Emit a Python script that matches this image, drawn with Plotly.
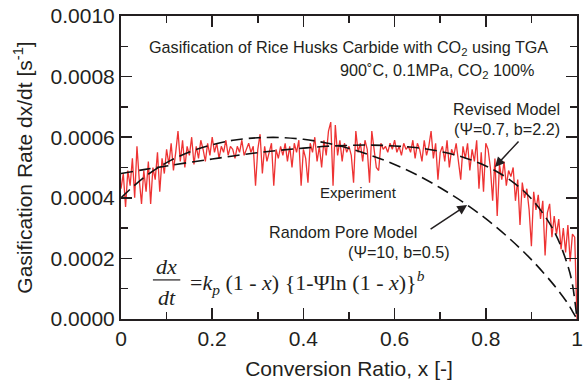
import plotly.graph_objects as go

# Experiment (conversion ratio x, rate in units of 1e-4 s^-1)
exp_x = [round(i * 0.005, 3) for i in range(201)]
exp_rate_e4 = [
    4.3, 4.8, 3.7, 4.9, 4.4, 5.3, 4.0, 5.7, 4.6, 3.8, 4.9,
    4.2, 5.2, 3.8, 5.0, 4.6, 5.5, 4.2, 5.3, 4.8, 5.6,
    5.1, 5.8, 4.9, 5.5, 6.2, 5.2, 5.9, 5.0, 5.7, 5.4,
    6.0, 5.1, 5.7, 5.3, 5.9, 5.6, 5.2, 5.8, 5.4, 6.0,
    5.5, 5.8, 5.3, 5.7, 5.5, 5.9, 5.4, 5.7, 5.6, 5.3,
    5.7, 5.5, 5.9, 5.4, 5.6, 5.8, 5.5, 5.7, 4.4, 5.6,
    6.1, 4.8, 5.7, 5.2, 5.5, 5.8, 4.4, 5.6, 5.3, 5.7,
    5.4, 5.8, 5.2, 5.7, 5.0, 5.8, 5.5, 5.9, 4.4, 5.6,
    5.3, 4.5, 5.8, 5.5, 6.0, 5.2, 5.7, 5.0, 5.9, 5.4,
    6.2, 6.5, 4.4, 6.4, 5.4, 5.9, 5.2, 5.8, 5.5, 5.7,
    5.4, 4.5, 6.2, 5.5, 5.8, 5.2, 5.9, 5.6, 4.5, 6.2,
    5.6, 5.0, 4.9, 5.8, 5.6, 5.7, 5.5, 5.8, 5.6, 5.9,
    5.5, 5.7, 5.4, 5.8, 5.6, 5.7, 5.5, 5.9, 5.3, 5.8,
    5.6, 5.2, 5.9, 5.4, 5.7, 6.2, 5.3, 5.8, 4.6, 5.5,
    5.7, 5.2, 5.9, 5.0, 5.6, 5.4, 5.8, 5.1, 4.6, 5.7,
    5.3, 5.8, 4.9, 5.6, 5.2, 5.9, 4.3, 5.5, 4.2, 5.8,
    5.6, 5.0, 3.9, 5.3, 3.4, 5.1, 4.6, 5.2, 4.4, 4.9,
    4.7, 5.0, 3.9, 4.6, 3.1, 4.5, 4.0, 4.3, 3.6, 2.4,
    4.2, 3.6, 4.1, 3.3, 3.9, 2.1, 3.5, 3.8, 2.7, 3.4,
    2.8, 3.3, 2.3, 3.0, 2.2, 3.1, 1.9, 2.8, 2.7, 0.0,
]
exp_rate = [v * 1e-4 for v in exp_rate_e4]

# Model curves
model_x = [0.0, 0.05, 0.1, 0.15, 0.2, 0.25, 0.3, 0.35, 0.4, 0.45, 0.5,
           0.55, 0.6, 0.65, 0.7, 0.75, 0.8, 0.85, 0.9, 0.95, 0.98, 0.99, 1.0]
rpm_rate = [0.000400, 0.000467, 0.000516, 0.000551, 0.000575, 0.000591,
            0.000598, 0.000599, 0.000593, 0.000581, 0.000563, 0.000539,
            0.000510, 0.000475, 0.000433, 0.000386, 0.000331, 0.000268,
            0.000196, 0.000111, 0.0000507, 0.0000250, 0.0]
revised_rate = [0.000480, 0.000493, 0.000505, 0.000517, 0.000528, 0.000539,
                0.000549, 0.000557, 0.000564, 0.000570, 0.000573, 0.000574,
                0.000571, 0.000565, 0.000553, 0.000534, 0.000505, 0.000462,
                0.000397, 0.000289, 0.000175, 0.000114, 0.0]

x_ticks = [0, 0.2, 0.4, 0.6, 0.8, 1.0]
x_ticktext = ["0", "0.2", "0.4", "0.6", "0.8", "1"]
y_ticks = [0, 0.0002, 0.0004, 0.0006, 0.0008, 0.0010]
y_ticktext = ["0.0000", "0.0002", "0.0004", "0.0006", "0.0008", "0.0010"]

INK = "#231f20"
SANS = "Liberation Sans, Arial, sans-serif"
SERIF = "Liberation Serif, Times New Roman, serif"

fig = go.Figure()
fig.add_trace(go.Scatter(x=exp_x, y=exp_rate, mode="lines",
                         line=dict(color="#ee3333", width=1.3),
                         showlegend=False))
fig.add_trace(go.Scatter(x=model_x, y=rpm_rate, mode="lines", line_shape="spline",
                         line=dict(color="#111111", width=1.6, dash="12px,6px"),
                         showlegend=False))
fig.add_trace(go.Scatter(x=model_x, y=revised_rate, mode="lines", line_shape="spline",
                         line=dict(color="#111111", width=1.6, dash="12px,6px"),
                         showlegend=False))

axis_common = dict(showgrid=False, zeroline=False, showline=True, linecolor=INK,
                   linewidth=2, mirror="ticks", ticks="inside", ticklen=11,
                   tickwidth=1.5, tickcolor=INK, automargin=False,
                   ticklabeloverflow="allow",
                   tickfont=dict(family=SANS, size=21, color=INK))

fig.update_xaxes(range=[0, 1], tickvals=x_ticks, ticktext=x_ticktext,
                 minor=dict(ticks="inside", ticklen=7, tickwidth=1.5,
                            tickcolor=INK, dtick=0.1, showgrid=False),
                 title=dict(text="Conversion Ratio, x [-]",
                            font=dict(family=SANS, size=21, color=INK), standoff=12),
                 **axis_common)
fig.update_yaxes(range=[0, 0.001], tickvals=y_ticks, ticktext=y_ticktext,
                 minor=dict(ticks="inside", ticklen=7, tickwidth=1.5,
                            tickcolor=INK, dtick=0.0001, showgrid=False),
                 title=dict(text="Gasification Rate dx/dt [s<sup>-1</sup>]",
                            font=dict(family=SANS, size=21, color=INK), standoff=12),
                 **axis_common)

ann = []
def txt(x, y, s, size=16.2, xanchor="left", family=SANS):
    ann.append(dict(x=x, y=y, xref="x", yref="y", text=s, showarrow=False,
                    xanchor=xanchor, yanchor="middle",
                    font=dict(family=family, size=size, color=INK)))

txt(0.498, 0.000894, "Gasification of Rice Husks Carbide with CO<sub>2</sub> using TGA",
    xanchor="center")
txt(0.911, 0.000817, "900˚C, 0.1MPa, CO<sub>2</sub> 100%", xanchor="right")
txt(0.724, 0.000693, "Revised Model")
txt(0.726, 0.000627, "(Ψ=0.7, b=2.2)")
txt(0.432, 0.000416, "Experiment", size=15)
txt(0.320, 0.000287, "Random Pore Model")
txt(0.493, 0.000221, "(Ψ=10, b=0.5)")

# arrows
ann.append(dict(x=0.820, y=0.000502, xref="x", yref="y", ax=25, ay=-27, text="",
                showarrow=True, arrowhead=2, arrowsize=1.3, arrowwidth=1.5,
                arrowcolor=INK))
ann.append(dict(x=0.759, y=0.000376, xref="x", yref="y", ax=-38, ay=25, text="",
                showarrow=True, arrowhead=2, arrowsize=1.3, arrowwidth=1.5,
                arrowcolor=INK))

# equation
txt(0.100, 0.000172, "<i>dx</i>", size=22, xanchor="center", family=SERIF)
txt(0.100, 0.000070, "<i>dt</i>", size=22, xanchor="center", family=SERIF)
txt(0.147, 0.000122,
    "=<i>k<sub>p</sub></i> (1 - <i>x</i>) {1-Ψln (1 - <i>x</i>)}<sup><i>b</i></sup>",
    size=22, family=SERIF)

fig.update_layout(
    width=587, height=389,
    margin=dict(l=121, r=10, t=16, b=70),
    paper_bgcolor="white", plot_bgcolor="white",
    annotations=ann,
    shapes=[dict(type="line", xref="x", yref="y", x0=0.07, x1=0.13,
                 y0=0.000129, y1=0.000129, line=dict(color=INK, width=1.2))],
)

# remove the default 8px page margin so the figure fills the window exactly
fig.write_html("out.html",
               config={"displayModeBar": False, "staticPlot": True},
               post_script="document.body.style.margin='0px';"
                           "document.body.style.overflow='hidden';")
